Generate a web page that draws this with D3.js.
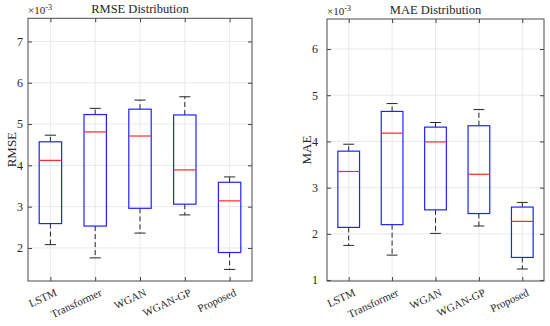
<!DOCTYPE html>
<html><head><meta charset="utf-8">
<script src="https://cdn.jsdelivr.net/npm/d3@7"></script>
<style>body{margin:0;background:#fff}svg{display:block}text{font-family:"Liberation Serif","Times New Roman",serif;fill:#262626}</style>
</head><body><svg id="c" width="550" height="326"></svg>
<script>
const categories = ["LSTM","Transformer","WGAN","WGAN-GP","Proposed"];
// RMSE (x1e-3): [whiskerLow, q1, median, q3, whiskerHigh]
const rmseLow    = [2.08, 1.76, 2.36, 2.80, 1.48];
const rmseQ1     = [2.59, 2.53, 2.96, 3.06, 1.89];
const rmseMedian = [4.12, 4.81, 4.71, 3.89, 3.14];
const rmseQ3     = [4.57, 5.23, 5.36, 5.22, 3.59];
const rmseHigh   = [4.73, 5.38, 5.58, 5.66, 3.72];
// MAE (x1e-3)
const maeLow    = [1.75, 1.54, 2.01, 2.17, 1.24];
const maeQ1     = [2.14, 2.20, 2.52, 2.44, 1.49];
const maeMedian = [3.35, 4.18, 3.99, 3.29, 2.27];
const maeQ3     = [3.79, 4.65, 4.31, 4.34, 2.58];
const maeHigh   = [3.94, 4.82, 4.41, 4.69, 2.68];
const rmseTicks = [2,3,4,5,6,7];
const maeTicks  = [1,2,3,4,5,6];

const svg = d3.select("#c");

function panel(o){
  const g = svg.append("g");
  const x = d3.scaleLinear().domain([0.5, categories.length+0.5]).range([o.x0, o.x1]);
  const y = d3.scaleLinear().domain(o.dom).range([o.y1, o.y0]);
  const pos = categories.map((c,i)=>i+1);
  // grid
  g.selectAll(".gx").data(pos).join("line").attr("x1",d=>x(d)).attr("x2",d=>x(d))
    .attr("y1",o.y0).attr("y2",o.y1).attr("stroke","#e3e3e3").attr("stroke-width",0.8);
  g.selectAll(".gy").data(o.ticks).join("line").attr("x1",o.x0).attr("x2",o.x1)
    .attr("y1",d=>y(d)).attr("y2",d=>y(d)).attr("stroke","#e3e3e3").attr("stroke-width",0.8);
  // axes via d3 axis (inward ticks)
  const ax = d3.axisLeft(y).tickValues(o.ticks).tickSize(-4).tickPadding(o.pad).tickFormat(d3.format("d"));
  const ga = g.append("g").attr("transform",`translate(${o.x0},0)`).call(ax);
  ga.select(".domain").remove();
  ga.selectAll("line").attr("stroke","#404040");
  ga.selectAll("text").attr("font-size",12).style("font-family","Liberation Serif").attr("fill","#262626");
  const axr = d3.axisRight(y).tickValues(o.ticks).tickSize(-4).tickFormat("");
  const gr = g.append("g").attr("transform",`translate(${o.x1},0)`).call(axr);
  gr.select(".domain").remove(); gr.selectAll("line").attr("stroke","#404040");
  const axb = d3.axisBottom(x).tickValues(pos).tickSize(-4).tickFormat("");
  const gb = g.append("g").attr("transform",`translate(0,${o.y1})`).call(axb);
  gb.select(".domain").remove(); gb.selectAll("line").attr("stroke","#404040");
  const axt = d3.axisTop(x).tickValues(pos).tickSize(-4).tickFormat("");
  const gt = g.append("g").attr("transform",`translate(0,${o.y0})`).call(axt);
  gt.select(".domain").remove(); gt.selectAll("line").attr("stroke","#404040");
  // boxes
  const bw = (x(2)-x(1))*0.5;
  const cw = bw*0.5;
  categories.forEach((c,i)=>{
    const cx = x(pos[i]);
    g.append("line").attr("x1",cx).attr("x2",cx).attr("y1",y(o.q3[i])).attr("y2",y(o.hi[i]))
      .attr("stroke","#262626").attr("stroke-dasharray","5,3").attr("stroke-width",1);
    g.append("line").attr("x1",cx).attr("x2",cx).attr("y1",y(o.q1[i])).attr("y2",y(o.lo[i]))
      .attr("stroke","#262626").attr("stroke-dasharray","5,3").attr("stroke-width",1);
    g.append("line").attr("x1",cx-cw/2).attr("x2",cx+cw/2).attr("y1",y(o.hi[i])).attr("y2",y(o.hi[i]))
      .attr("stroke","#262626").attr("stroke-width",1);
    g.append("line").attr("x1",cx-cw/2).attr("x2",cx+cw/2).attr("y1",y(o.lo[i])).attr("y2",y(o.lo[i]))
      .attr("stroke","#262626").attr("stroke-width",1);
    g.append("rect").attr("x",cx-bw/2).attr("width",bw).attr("y",y(o.q3[i]))
      .attr("height",y(o.q1[i])-y(o.q3[i])).attr("fill","none").attr("stroke","#2222ff").attr("stroke-width",1.2);
    g.append("line").attr("x1",cx-bw/2).attr("x2",cx+bw/2).attr("y1",y(o.med[i])).attr("y2",y(o.med[i]))
      .attr("stroke","#ff2a2a").attr("stroke-width",1.2);
  });
  // frame
  g.append("rect").attr("x",o.x0).attr("y",o.y0).attr("width",o.x1-o.x0).attr("height",o.y1-o.y0)
    .attr("fill","none").attr("stroke","#4a4a4a").attr("stroke-width",1);
  // category labels
  g.selectAll(".cl").data(categories).join("text")
    .attr("transform",(d,i)=>`translate(${x(pos[i])+4},${o.y1+7}) rotate(-25)`)
    .attr("text-anchor","end").attr("dy","0.71em").attr("font-size",11).text(d=>d);
  // title
  g.append("text").attr("x",(o.x0+o.x1)/2).attr("y",o.y0-5).attr("text-anchor","middle")
    .attr("font-size",12.5).text(o.title);
  // exponent
  const ex = g.append("text").attr("x",o.x0).attr("y",o.y0-4).attr("font-size",11);
  ex.append("tspan").text("\u00d710");
  ex.append("tspan").attr("dy",-4).attr("font-size",8).text("-3");
  // ylabel
  g.append("text").attr("transform",`translate(${o.yl},${(o.y0+o.y1)/2}) rotate(-90)`)
    .attr("text-anchor","middle").attr("font-size",13).text(o.ylabel);
}

panel({x0:28,x1:252,y0:18.3,y1:281,dom:[1.2,7.56],ticks:rmseTicks,title:"RMSE Distribution",ylabel:"RMSE",yl:15.5,pad:5,
  lo:rmseLow,q1:rmseQ1,med:rmseMedian,q3:rmseQ3,hi:rmseHigh});
panel({x0:327,x1:544,y0:19,y1:281,dom:[0.98,6.65],ticks:maeTicks,title:"MAE Distribution",ylabel:"MAE",yl:310.5,pad:9,
  lo:maeLow,q1:maeQ1,med:maeMedian,q3:maeQ3,hi:maeHigh});
</script></body></html>
